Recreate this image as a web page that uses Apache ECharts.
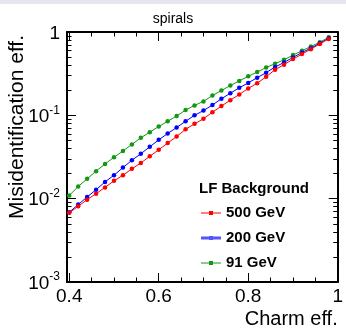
<!DOCTYPE html>
<html>
<head>
<meta charset="utf-8">
<script src="https://cdn.jsdelivr.net/npm/echarts@6/dist/echarts.min.js"></script>
<style>html,body{margin:0;padding:0;background:#fff}#c{width:346px;height:330px}</style>
</head>
<body>
<div id="c"></div>
<script>
const chartTitle = 'spirals';
const legendTitle = 'LF Background';
const xTitle = 'Charm eff.';
const yTitle = 'Misidentification eff.';
const seriesNames = ['500 GeV', '200 GeV', '91 GeV'];
const charmEff = [0.40,0.42,0.44,0.46,0.48,0.50,0.52,0.54,0.56,0.58,0.60,0.62,0.64,0.66,0.68,0.70,0.72,0.74,0.76,0.78,0.80,0.82,0.84,0.86,0.88,0.90,0.92,0.94,0.96,0.98];
const mis500 = [0.00676,0.00810,0.00973,0.01147,0.01365,0.01637,0.0191,0.0228,0.0268,0.0322,0.0386,0.0464,0.0557,0.068,0.079,0.091,0.109,0.129,0.152,0.178,0.210,0.243,0.290,0.353,0.405,0.473,0.543,0.622,0.719,0.826];
const mis200 = [0.00687,0.00849,0.01047,0.0128,0.0159,0.0191,0.0236,0.0289,0.0346,0.0419,0.0508,0.0605,0.0714,0.0849,0.100,0.114,0.133,0.158,0.184,0.214,0.245,0.283,0.325,0.380,0.431,0.495,0.567,0.640,0.733,0.841];
const mis91 = [0.0109,0.0140,0.0173,0.0214,0.0261,0.0313,0.0373,0.0448,0.0537,0.0628,0.0733,0.0849,0.0981,0.1156,0.1316,0.147,0.173,0.198,0.228,0.259,0.294,0.331,0.375,0.416,0.464,0.528,0.595,0.669,0.754,0.865];
const xMajorTicks = [0.4, 0.6, 0.8, 1.0];
const xMinorTicks = [0.45,0.5,0.55,0.65,0.7,0.75,0.85,0.9,0.95];
const yMajorTicks = [0.001, 0.01, 0.1, 1];
const yMinorTicks = [0.002,0.003,0.004,0.005,0.006,0.007,0.008,0.009,0.02,0.03,0.04,0.05,0.06,0.07,0.08,0.09,0.2,0.3,0.4,0.5,0.6,0.7,0.8,0.9];
const colors = ['#ff0000', '#0000ff', '#119911'];

const FONT = 'Liberation Sans, Arial, sans-serif';
const X_MIN = 0.395, X_MAX = 1.0;
const Y_MIN = 0.001, Y_MAX = 1;

function pairs(ys) { return charmEff.map((x, i) => [x, ys[i]]); }

function xAxisCfg(pos, ticks, len, showLine, showLabels) {
  return {
    type: 'value', position: pos, min: X_MIN, max: X_MAX,
    axisLine: { show: showLine, onZero: false, lineStyle: { color: '#000', width: 2 } },
    axisTick: { show: true, inside: true, length: len, customValues: ticks, lineStyle: { color: '#000', width: 1 } },
    axisLabel: { show: showLabels, customValues: ticks, margin: 5, fontSize: 19, color: '#000', fontFamily: FONT,
      formatter: v => (Math.abs(v - 1) < 1e-9 ? '1' : v.toFixed(1)) },
    splitLine: { show: false }
  };
}
function yAxisCfg(pos, ticks, len, showLine, showLabels) {
  return {
    type: 'log', logBase: 10, position: pos, min: Y_MIN, max: Y_MAX,
    axisLine: { show: showLine, onZero: false, lineStyle: { color: '#000', width: 2 } },
    axisTick: { show: true, inside: true, length: len, customValues: ticks, lineStyle: { color: '#000', width: 1 } },
    axisLabel: { show: showLabels, customValues: ticks, margin: 7, color: '#000', fontFamily: FONT,
      formatter: v => {
        const e = Math.round(Math.log10(v));
        if (e === 0) return '{b|1}';
        return '{b|10}{s|' + e + '}';
      },
      rich: {
        b: { fontSize: 19, fontFamily: FONT, color: '#000', verticalAlign: 'bottom', lineHeight: 22 },
        s: { fontSize: 12, fontFamily: FONT, color: '#000', verticalAlign: 'top', lineHeight: 22 }
      }
    },
    splitLine: { show: false }
  };
}

const xAxes = [
  xAxisCfg('bottom', xMajorTicks, 9, true, true),
  xAxisCfg('bottom', xMinorTicks, 4.5, false, false),
  xAxisCfg('top', xMajorTicks, 9, true, false),
  xAxisCfg('top', xMinorTicks, 4.5, false, false)
];
xAxes[0].name = xTitle;
xAxes[0].nameLocation = 'end';
xAxes[0].nameGap = 0;
xAxes[0].nameTextStyle = { fontSize: 20, color: '#000', fontFamily: FONT, align: 'right', verticalAlign: 'top', padding: [27, 0, 0, 0] };

const yAxes = [
  yAxisCfg('left', yMajorTicks, 9, true, true),
  yAxisCfg('left', yMinorTicks, 4.5, false, false),
  yAxisCfg('right', yMajorTicks, 9, true, false),
  yAxisCfg('right', yMinorTicks, 4.5, false, false)
];

const seriesData = [mis500, mis200, mis91];
const series = seriesNames.map((n, k) => ({
  name: n, type: 'line', xAxisIndex: 0, yAxisIndex: 0,
  data: pairs(seriesData[k]),
  symbol: 'circle', symbolSize: 4.5,
  lineStyle: { color: colors[k], width: 1 },
  itemStyle: { color: colors[k] },
  z: 3 - k + 2,
  animation: false
}));

const iconPath = 'path://M0,1.5H8V0H12V1.5H20V2.5H12V4H8V2.5H0Z';
const iconPathThick = 'path://M0,0.5H8V0H12V0.5H20V3.5H12V4H8V3.5H0Z';

const chart = echarts.init(document.getElementById('c'), null, { renderer: 'canvas' });
chart.setOption({
  backgroundColor: '#ffffff',
  animation: false,
  title: [
    { text: chartTitle, left: 'center', top: 7, textStyle: { fontSize: 14, fontWeight: 'normal', color: '#000', fontFamily: FONT } },
    { text: legendTitle, left: 194, top: 176, textStyle: { fontSize: 15, fontWeight: 'bold', color: '#000', fontFamily: FONT } }
  ],
  grid: { left: 67, right: 3, top: 32, bottom: 48, containLabel: false },
  xAxis: xAxes,
  yAxis: yAxes,
  legend: {
    orient: 'vertical', left: 196, top: 199,
    itemWidth: 20, itemHeight: 4, itemGap: 7,
    textStyle: { fontSize: 15, fontWeight: 'bold', color: '#000', fontFamily: FONT, lineHeight: 18 },
    data: [
      { name: seriesNames[0], icon: iconPath },
      { name: seriesNames[1], icon: iconPathThick, itemStyle: { color: '#5555ff' } },
      { name: seriesNames[2], icon: iconPath }
    ]
  },
  graphic: [
    { type: 'rect', left: 0, top: 0, shape: { width: 346, height: 4 }, style: { fill: '#e6e6f0' }, silent: true },
    { type: 'text', x: 17, y: 127, rotation: Math.PI / 2,
      style: { text: yTitle, fontSize: 21, fontFamily: FONT, fill: '#000', align: 'center', verticalAlign: 'middle' } }
  ],
  series: series
});
</script>
</body>
</html>
